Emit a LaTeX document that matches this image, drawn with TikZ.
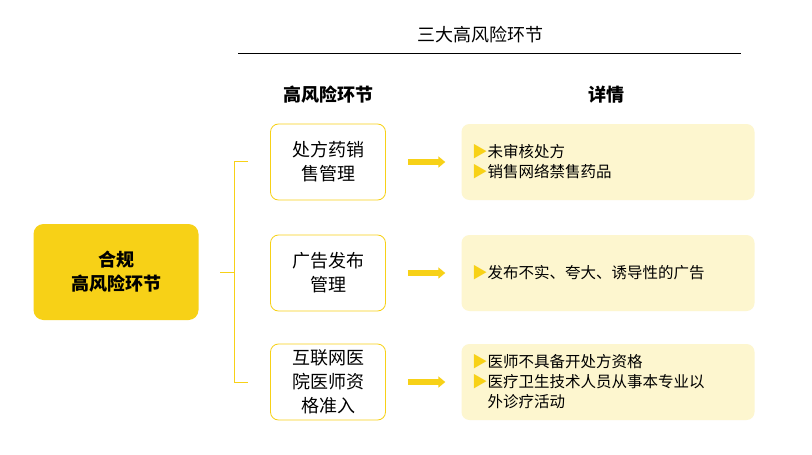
\documentclass[tikz,border=0pt]{standalone}
\usepackage{fontspec}
\setmainfont{Noto Sans CJK SC}
\usetikzlibrary{positioning,arrows.meta}
\definecolor{ylw}{HTML}{F7D117}
\definecolor{ylwlight}{HTML}{FDF6CF}
\tikzset{
  stepbox/.style={draw=ylw,thick,rounded corners=8pt,fill=white,minimum width=115pt,minimum height=76pt,align=center,font=\fontsize{18}{24}\selectfont},
  detailbox/.style={fill=ylwlight,rounded corners=8pt,minimum width=293pt,minimum height=76pt,align=left,text width=272pt,font=\fontsize{15.5}{20}\selectfont},
  flow/.style={-{Triangle[length=7pt,width=11pt]},line width=6pt,ylw},
}
\begin{document}
\begin{tikzpicture}[x=1pt,y=-1pt]
  \useasboundingbox[fill=white] (0,0) rectangle (812,455);
  \node[font=\fontsize{18}{22}\selectfont] (title) at (480,35) {三大高风险环节};
  \coordinate (rl) at (238,53);
  \coordinate (rr) at (741,53);
  \draw[thick] (rl) -- (rr);
  \node[font=\bfseries\fontsize{18}{22}\selectfont] (hstep) at (328,95) {高风险环节};
  \node[font=\bfseries\fontsize{18}{22}\selectfont] (hdet) at (606,95) {详情};

  \node[fill=ylw,rounded corners=10pt,minimum width=165pt,minimum height=96pt,align=center,
        font=\bfseries\fontsize{18}{24}\selectfont] (main) at (116,272) {合规\\高风险环节};

  % middle column
  \node[stepbox] (s1) at (328,162) {处方药销\\售管理};
  \node[stepbox] (s2) at (328,273) {广告发布\\管理};
  \node[stepbox] (s3) at (328,382) {互联网医\\院医师资\\格准入};

  % bracket
  \coordinate (bm) at (220,272);
  \coordinate (bt) at (248,161);
  \coordinate (bb) at (248,382);
  \draw[ylw,thick] (bt) -- (234,161) -- (234,382) -- (bb);
  \draw[ylw,thick] (bm) -- (234,272);

  % details
  \node[detailbox] (d1) at (608,162) {{\color{ylw}▶}未审核处方\\{\color{ylw}▶}销售网络禁售药品};
  \node[detailbox] (d2) at (608,273) {{\color{ylw}▶}发布不实、夸大、诱导性的广告};
  \node[detailbox] (d3) at (608,382) {{\color{ylw}▶}医师不具备开处方资格\\{\color{ylw}▶}医疗卫生技术人员从事本专业以\\\hspace*{1em}外诊疗活动};

  \foreach \i in {1,2,3}
    \draw[flow] ([xshift=22pt]s\i.east) -- ([xshift=-16pt]d\i.west);
\end{tikzpicture}
\end{document}
